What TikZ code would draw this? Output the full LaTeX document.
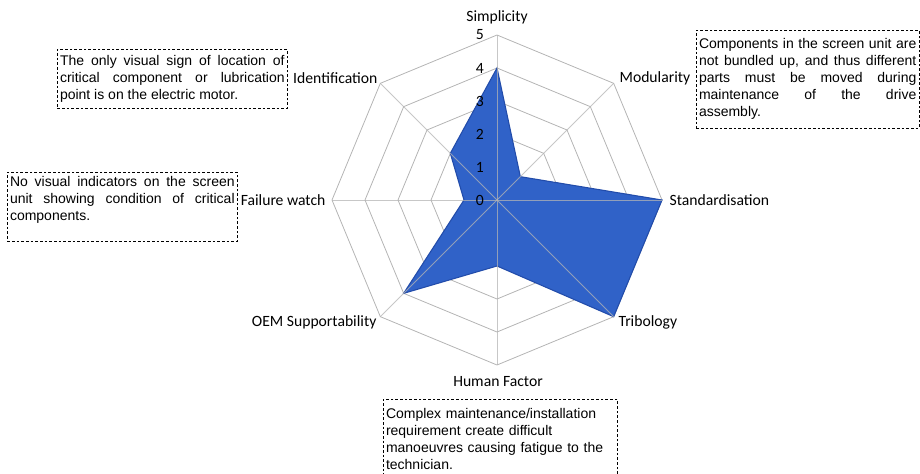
\documentclass[tikz,border=0pt]{standalone}
\usepackage{fontspec}
\setmainfont{Carlito}
\newfontfamily\notefont{Liberation Sans}
\usetikzlibrary{positioning}
\definecolor{chartblue}{RGB}{48,98,200}
\definecolor{chartedge}{RGB}{34,76,170}
\definecolor{gridgray}{RGB}{180,180,180}
\tikzset{
  gridline/.style={draw=gridgray, line width=0.6pt},
  datafill/.style={fill=chartblue, draw=chartedge, line width=0.8pt},
  axislabel/.style={font=\fontsize{11.75}{14}\selectfont, inner sep=1pt},
  scalelabel/.style={font=\fontsize{11.75}{14}\selectfont, inner sep=0pt, anchor=east},
  notebox/.style={draw, dash pattern=on 2pt off 1.5pt, line width=0.5pt,
    font=\notefont\fontsize{10.5}{12.75}\selectfont, align=justify,
    inner xsep=2pt, inner ysep=3pt, anchor=north west},
}
\begin{document}
\begin{tikzpicture}[x=0.75pt,y=-0.75pt]
\useasboundingbox (0,0) rectangle (920,474);
\coordinate (O) at (497,200);
\begin{scope}[shift={(O)}]
  % web
  \foreach \r in {33,66,...,165}
    \draw[gridline] (0:\r) \foreach \a in {45,90,...,315} {-- (\a:\r)} -- cycle;
  % scores
  \draw[datafill] (-90:132) -- (-45:33) -- (0:165) -- (45:165) -- (90:66)
    -- (135:132) -- (180:33) -- (225:66) -- cycle;
  \foreach \a in {0,45,...,315}
    \draw[gridline, draw opacity=0.75] (0,0) -- (\a:165);
\end{scope}
\foreach \v in {0,...,5}
  \node[scalelabel] (s\v) at (484,{200-33*\v}) {\v};

\node[axislabel] (simp) at (497,17) {Simplicity};
\node[axislabel, anchor=west] (modu) at (618,78) {Modularity};
\node[axislabel, anchor=west] (stan) at (668,200) {Standardisation};
\node[axislabel, anchor=west] (trib) at (617,322) {Tribology};
\node[axislabel] (human) at (498,382) {Human Factor};
\node[axislabel, anchor=east] (oem) at (378,322) {OEM Supportability};
\node[axislabel, anchor=east] (fail) at (327,200) {Failure watch};
\node[axislabel, anchor=east] (ident) at (379,78) {Identification};

\node[notebox, text width=168.5pt, minimum height=44.25pt] (noteident) at (57,49)
  {The only visual sign of location of\linebreak critical component or lubrication\linebreak point is on the electric motor.};
\node[notebox, text width=168.5pt] (notefail) at (7,172)
  {No visual indicators on the screen\linebreak unit showing condition of critical\linebreak components.\\\mbox{}};
\node[notebox, text width=163pt, minimum height=73.5pt] (notemodu) at (696,30)
  {Components in the screen unit are\linebreak not bundled up, and thus different\linebreak parts must be moved during\linebreak maintenance of the drive\linebreak assembly.};
\node[notebox, text width=171.5pt, align=left, inner ysep=6.5pt] (notehuman) at (383,399)
  {Complex maintenance/installation\\requirement create difficult\\manoeuvres causing fatigue to the\\technician.};
\end{tikzpicture}
\end{document}
